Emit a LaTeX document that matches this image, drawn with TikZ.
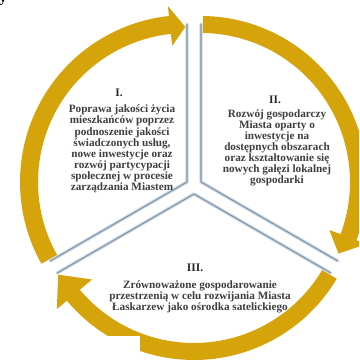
\documentclass[tikz,border=0pt]{standalone}
\usepackage{fontspec}
\setmainfont{Liberation Serif}
\usetikzlibrary{calc}
\definecolor{gold}{RGB}{213,164,10}
\definecolor{edgecore}{RGB}{128,150,168}
\definecolor{edgehalo}{RGB}{208,218,227}
\definecolor{txt}{RGB}{62,62,62}
\definecolor{headtxt}{RGB}{40,40,40}
\begin{document}
\begin{tikzpicture}[x=1pt,y=1pt,
  halo/.style={draw=edgehalo,line width=3.4pt,line join=round,line cap=round},
  core/.style={draw=edgecore,line width=1.1pt,line join=round},
  band/.style={fill=gold},
  lbl/.style={font=\bfseries\fontsize{11.2}{11.1}\selectfont,text=txt,align=center,inner sep=0pt},
  head/.style={font=\bfseries\fontsize{11.5}{12}\selectfont,text=headtxt,inner sep=0pt}]
\clip (0,0) rectangle (359,361);
\fill[white] (0,0) rectangle (359,361);
% cut-off letter of the page text above
\node[font=\bfseries\fontsize{14}{14}\selectfont,anchor=base,inner sep=0pt] (ytail) at (3,358) {y};
% apexes of the three separated sectors
\coordinate (A1) at (187,179);
\coordinate (A2) at (201,179);
\coordinate (A3) at (194,167);
% sector borders
\foreach \p/\a/\b in {A1/90/210, A2/90/-30, A3/-30/210}{
  \draw[halo] ($(\p)+(\a:158)$) -- (\p) -- ($(\p)+(\b:158)$);
  \draw[core] ($(\p)+(\a:158)$) -- (\p) -- ($(\p)+(\b:158)$);
}
% curved arrows
\begin{scope}[shift={(A1)}]
\fill[band] (209.3:149) -- (209.3:167) arc[start angle=209.3,end angle=96.2,radius=167]
  -- (96.2:177) -- (90.6:155) -- (96.2:137) -- (96.2:149)
  arc[start angle=96.2,end angle=209.3,radius=149] -- cycle;
\end{scope}
\begin{scope}[shift={(A2)}]
\fill[band] (89.3:149) -- (89.3:166) arc[start angle=89.3,end angle=-20.5,radius=166]
  -- (-20.5:177) -- (-27.5:155) -- (-20.5:137) -- (-20.5:149)
  arc[start angle=-20.5,end angle=89.3,radius=149] -- cycle;
\end{scope}
\begin{scope}[shift={(A3)}]
\fill[band] (-30.7:149) -- (-30.7:166) arc[start angle=-30.7,end angle=-140,radius=166]
  -- (-140:179) -- (-149.3:158) -- (-140:133) -- (-140:149)
  arc[start angle=-140,end angle=-30.7,radius=149] -- cycle;
\end{scope}
% white patch covering the lower left corner
\fill[white] (0,0) rectangle (140,25);
% texts
\node[head] (h1) at (119,268) {I.};
\node[lbl] (t1) at (122,212) {Poprawa jakości życia\\mieszkańców poprzez\\podnoszenie jakości\\świadczonych usług,\\nowe inwestycje oraz\\rozwój partycypacji\\społecznej w procesie\\zarządzania Miastem};
\node[head] (h2) at (275,261) {II.};
\node[lbl] (t2) at (277,213) {Rozwój gospodarczy\\Miasta oparty o\\inwestycje na\\dostępnych obszarach\\oraz kształtowanie się\\nowych gałęzi lokalnej\\gospodarki};
\node[head] (h3) at (195,93) {III.};
\node[lbl] (t3) at (200,64) {Zrównoważone gospodarowanie\\przestrzenią w celu rozwijania Miasta\\Łaskarzew jako ośrodka satelickiego};
\end{tikzpicture}
\end{document}
